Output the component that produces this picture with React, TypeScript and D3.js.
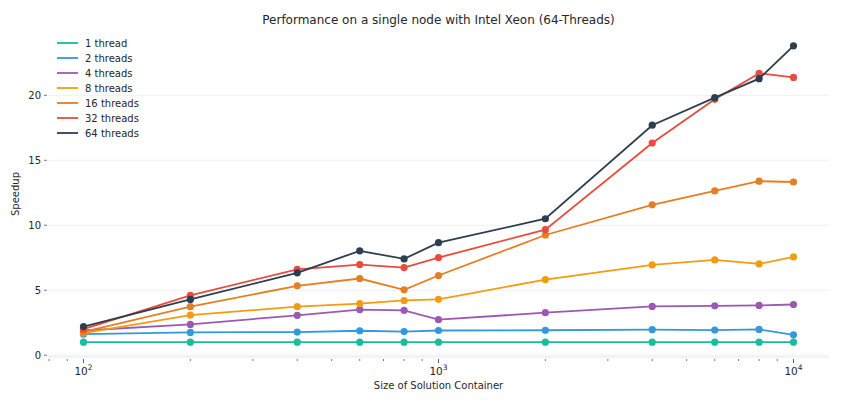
import React from 'react';
import * as d3 from 'd3';

const sizes = [100, 200, 400, 600, 800, 1000, 2000, 4000, 6000, 8000, 10000];

const seriesNames = ['1 thread', '2 threads', '4 threads', '8 threads', '16 threads', '32 threads', '64 threads'];
const seriesColors = ['#1abc9c', '#3498db', '#9b59b6', '#f39c12', '#e67e22', '#e74c3c', '#2c3e50'];

const thread1 = [1, 1, 1, 1, 1, 1, 1, 1, 1, 1, 1];
const thread2 = [1.62, 1.75, 1.78, 1.88, 1.82, 1.9, 1.92, 1.96, 1.93, 1.98, 1.57];
const thread4 = [1.9, 2.37, 3.07, 3.5, 3.45, 2.73, 3.27, 3.75, 3.8, 3.83, 3.9];
const thread8 = [1.7, 3.09, 3.73, 3.96, 4.21, 4.3, 5.82, 6.95, 7.33, 7.02, 7.56];
const thread16 = [1.8, 3.73, 5.34, 5.9, 5.03, 6.13, 9.25, 11.57, 12.64, 13.39, 13.33];
const thread32 = [2.0, 4.6, 6.6, 6.97, 6.74, 7.51, 9.66, 16.33, 19.69, 21.69, 21.38];
const thread64 = [2.2, 4.29, 6.34, 8.03, 7.41, 8.66, 10.5, 17.7, 19.82, 21.28, 23.81];

const allSeries = [thread1, thread2, thread4, thread8, thread16, thread32, thread64];

const yTicks = [0, 5, 10, 15, 20];
const xMajorTicks = [100, 1000, 10000];
const xMinorTicks = [80, 90, 200, 300, 400, 500, 600, 700, 800, 900, 2000, 3000, 4000, 5000, 6000, 7000, 8000, 9000];

const W = 843;
const H = 405;
const margin = { left: 48, right: 14, top: 31, bottom: 48 };
const FONT = 'DejaVu Sans, sans-serif';

export default function App() {
  const innerW = W - margin.left - margin.right;
  const innerH = H - margin.top - margin.bottom;

  // 5% padding in log space, like matplotlib autoscale
  const lo = Math.log10(d3.min(sizes)!);
  const hi = Math.log10(d3.max(sizes)!);
  const padX = (hi - lo) * 0.05;
  const x = d3.scaleLog()
    .domain([Math.pow(10, lo - padX), Math.pow(10, hi + padX)])
    .range([0, innerW]);

  const allVals = allSeries.flat();
  const yMin = d3.min(allVals)!;
  const yMax = d3.max(allVals)!;
  const padY = (yMax - yMin) * 0.05;
  const y = d3.scaleLinear()
    .domain([yMin - padY, yMax + padY])
    .range([innerH, 0]);

  const line = d3.line<number>()
    .x((_, i) => x(sizes[i]))
    .y(d => y(d));

  return (
    <svg width={W} height={H} style={{ position: 'absolute', left: 0, top: 0, background: '#fff' }}
      fontFamily={FONT}>
      <text x={margin.left + innerW / 2} y={24} textAnchor="middle" fontSize={12} fill="#262626">
        Performance on a single node with Intel Xeon (64-Threads)
      </text>
      <g transform={`translate(${margin.left},${margin.top})`}>
        {/* grid */}
        {yTicks.map(t => (
          <line key={t} x1={0} x2={innerW} y1={y(t)} y2={y(t)} stroke="#eef0f3" strokeWidth={1} />
        ))}
        <line x1={0} x2={innerW} y1={innerH} y2={innerH} stroke="#e4e8ee" strokeWidth={1} />
        {/* y ticks */}
        {yTicks.map(t => (
          <g key={'yt' + t} transform={`translate(0,${y(t)})`}>
            <line x1={-4} x2={-1} stroke="#555" strokeWidth={0.8} />
            <text x={-7} dy="0.35em" textAnchor="end" fontSize={10} fill="#262626">{t}</text>
          </g>
        ))}
        {/* x ticks */}
        {xMinorTicks.map(t => (
          <line key={'xm' + t} x1={x(t)} x2={x(t)} y1={innerH + 2} y2={innerH + 4} stroke="#555" strokeWidth={0.8} />
        ))}
        {xMajorTicks.map(t => (
          <g key={'xt' + t} transform={`translate(${x(t)},${innerH})`}>
            <line y1={2} y2={6} stroke="#333" strokeWidth={0.8} />
            <text y={18} textAnchor="middle" fontSize={10.5} fill="#262626">
              10<tspan dy={-5} fontSize={7.5}>{Math.round(Math.log10(t))}</tspan>
            </text>
          </g>
        ))}
        {/* series */}
        {allSeries.map((s, k) => (
          <g key={seriesNames[k]}>
            <path d={line(s) || ''} fill="none" stroke={seriesColors[k]} strokeWidth={1.8} />
            {s.map((v, i) => (
              <circle key={i} cx={x(sizes[i])} cy={y(v)} r={3.6} fill={seriesColors[k]} />
            ))}
          </g>
        ))}
        {/* legend */}
        <g transform="translate(9,12)">
          {seriesNames.map((n, k) => (
            <g key={n} transform={`translate(0,${k * 15})`}>
              <line x1={0} x2={21} stroke={seriesColors[k]} strokeWidth={1.8} />
              <text x={28} dy="0.35em" fontSize={10} fill="#262626">{n}</text>
            </g>
          ))}
        </g>
      </g>
      <text transform={`translate(19,${margin.top + innerH / 2}) rotate(-90)`} textAnchor="middle" fontSize={10} fill="#262626">
        Speedup
      </text>
      <text x={margin.left + innerW / 2} y={389} textAnchor="middle" fontSize={10} fill="#262626">
        Size of Solution Container
      </text>
    </svg>
  );
}
